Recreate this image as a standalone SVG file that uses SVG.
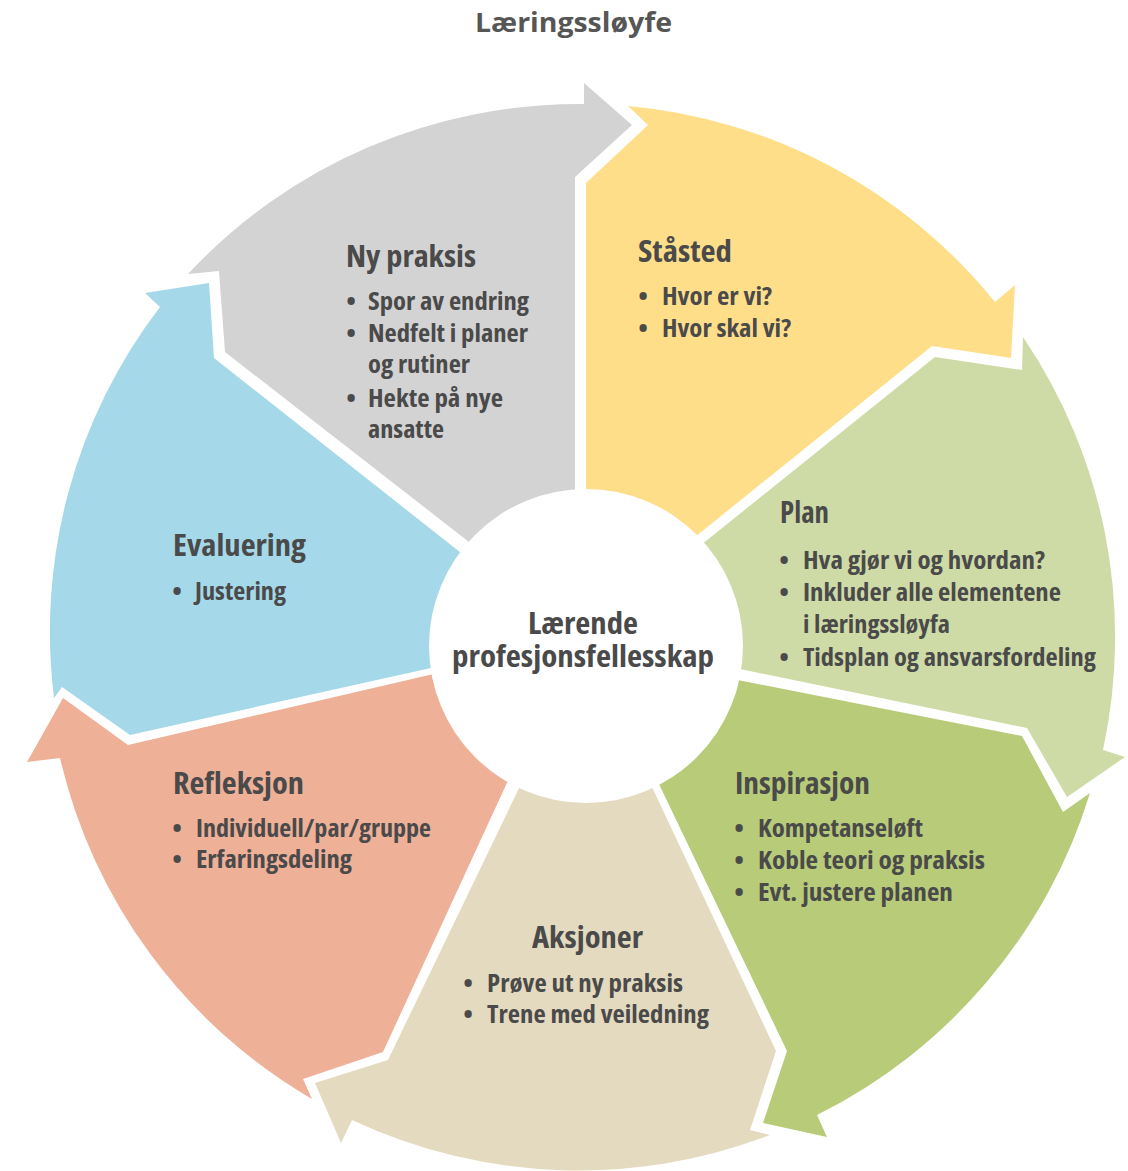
<svg xmlns="http://www.w3.org/2000/svg" width="1128" height="1171" viewBox="0 0 1128 1171">
<style>
  .seg { stroke: none; }
  .t { font-family: "Open Sans", "Liberation Sans Narrow", "DejaVu Sans Condensed", sans-serif; font-weight: 700; font-stretch: condensed; fill: #4a4a4a; }
  .h { font-size: 30px; }
  .c { font-size: 30px; }
  .b { font-size: 25px; }
  .dot { font-size: 25px; text-anchor: middle; }
  .title { font-family: "Open Sans", "Liberation Sans", sans-serif; font-weight: 700; font-size: 26px; fill: #565656; }
</style>
<rect width="1128" height="1171" fill="#ffffff"/>
<text class="title" x="475" y="32" textLength="197" lengthAdjust="spacingAndGlyphs">Læringssløyfe</text>

<g id="ny-praksis">
  <path class="seg" fill="#d3d3d3" d="M478,549 L225,352 L219,271 L188,274 A534,534 0 0 1 584,104 L584,83 L632,125 L575,177 L575,500 L586,646 Z"/>
  <text class="t h" x="346" y="267" textLength="130" lengthAdjust="spacingAndGlyphs">Ny praksis</text>
  <text class="t dot" x="351" y="310">•</text>
  <text class="t b" x="368" y="310" textLength="161" lengthAdjust="spacingAndGlyphs">Spor av endring</text>
  <text class="t dot" x="351" y="342">•</text>
  <text class="t b" x="368" y="342" textLength="160" lengthAdjust="spacingAndGlyphs">Nedfelt i planer</text>
  <text class="t b" x="368" y="373" textLength="102" lengthAdjust="spacingAndGlyphs">og rutiner</text>
  <text class="t dot" x="351" y="407">•</text>
  <text class="t b" x="368" y="407" textLength="135" lengthAdjust="spacingAndGlyphs">Hekte på nye</text>
  <text class="t b" x="368" y="438" textLength="76" lengthAdjust="spacingAndGlyphs">ansatte</text>
</g>

<g id="staasted">
  <path class="seg" fill="#ffde8a" d="M586,500 L586,183 L648,125 L628,106 A534,534 0 0 1 995,302 L1015,285 L1011,358 L932,346 L690,541 L586,646 Z"/>
  <text class="t h" x="638" y="262" textLength="94" lengthAdjust="spacingAndGlyphs">Ståsted</text>
  <text class="t dot" x="643" y="305">•</text>
  <text class="t b" x="662" y="305" textLength="110" lengthAdjust="spacingAndGlyphs">Hvor er vi?</text>
  <text class="t dot" x="643" y="337">•</text>
  <text class="t b" x="662" y="337" textLength="129" lengthAdjust="spacingAndGlyphs">Hvor skal vi?</text>
</g>

<g id="plan">
  <path class="seg" fill="#cfdba6" d="M696,549 L935,357 L1022,370 L1023,337 A534,534 0 0 1 1103,750 L1125,757 L1067,797 L1027,728 L735,668 L586,646 Z"/>
  <text class="t h" x="780" y="523" textLength="49" lengthAdjust="spacingAndGlyphs">Plan</text>
  <text class="t dot" x="784" y="569">•</text>
  <text class="t b" x="803" y="569" textLength="242" lengthAdjust="spacingAndGlyphs">Hva gjør vi og hvordan?</text>
  <text class="t dot" x="784" y="601">•</text>
  <text class="t b" x="803" y="601" textLength="258" lengthAdjust="spacingAndGlyphs">Inkluder alle elementene</text>
  <text class="t b" x="803" y="633" textLength="147" lengthAdjust="spacingAndGlyphs">i læringssløyfa</text>
  <text class="t dot" x="784" y="666">•</text>
  <text class="t b" x="803" y="666" textLength="293" lengthAdjust="spacingAndGlyphs">Tidsplan og ansvarsfordeling</text>
</g>

<g id="inspirasjon">
  <path class="seg" fill="#b8cb78" d="M730,678.5 L1022,736 L1063,812 L1090,793 A534,534 0 0 1 817,1115 L827,1137 L763,1123 L787,1051 L654.6,775 L586,646 Z"/>
  <text class="t h" x="735" y="794" textLength="135" lengthAdjust="spacingAndGlyphs">Inspirasjon</text>
  <text class="t dot" x="739" y="837">•</text>
  <text class="t b" x="758" y="837" textLength="165" lengthAdjust="spacingAndGlyphs">Kompetanseløft</text>
  <text class="t dot" x="739" y="869">•</text>
  <text class="t b" x="758" y="869" textLength="227" lengthAdjust="spacingAndGlyphs">Koble teori og praksis</text>
  <text class="t dot" x="739" y="901">•</text>
  <text class="t b" x="758" y="901" textLength="195" lengthAdjust="spacingAndGlyphs">Evt. justere planen</text>
</g>

<g id="aksjoner">
  <path class="seg" fill="#e4dabf" d="M648.7,780 L776,1051 L750,1130 L770,1135 A534,534 0 0 1 352,1120 L341,1143 L315,1083 L388,1060 L523,780 L586,646 Z"/>
  <text class="t h" x="532" y="948" textLength="111" lengthAdjust="spacingAndGlyphs">Aksjoner</text>
  <text class="t dot" x="468" y="992">•</text>
  <text class="t b" x="487" y="992" textLength="196" lengthAdjust="spacingAndGlyphs">Prøve ut ny praksis</text>
  <text class="t dot" x="468" y="1023">•</text>
  <text class="t b" x="487" y="1023" textLength="222" lengthAdjust="spacingAndGlyphs">Trene med veiledning</text>
</g>

<g id="refleksjon">
  <path class="seg" fill="#efb098" d="M510.6,775 L383,1052 L303,1079 L312,1099 A534,534 0 0 1 60,758 L27,762 L63,698 L128,745 L440,672.6 L586,646 Z"/>
  <text class="t h" x="173" y="794" textLength="131" lengthAdjust="spacingAndGlyphs">Refleksjon</text>
  <text class="t dot" x="177" y="837">•</text>
  <text class="t b" x="196" y="837" textLength="235" lengthAdjust="spacingAndGlyphs">Individuell/par/gruppe</text>
  <text class="t dot" x="177" y="868">•</text>
  <text class="t b" x="196" y="868" textLength="156" lengthAdjust="spacingAndGlyphs">Erfaringsdeling</text>
</g>

<g id="evaluering">
  <path class="seg" fill="#a5d8e9" d="M440,665.9 L130,735 L62,687 L54,698 A534,534 0 0 1 160,307 L145,293 L209,283 L214,358 L470,560 L586,646 Z"/>
  <text class="t h" x="173" y="556" textLength="133" lengthAdjust="spacingAndGlyphs">Evaluering</text>
  <text class="t dot" x="177" y="600">•</text>
  <text class="t b" x="195" y="600" textLength="91" lengthAdjust="spacingAndGlyphs">Justering</text>
</g>

<g id="connectors"></g>

<g id="center">
  <circle cx="586" cy="646" r="157" fill="#ffffff"/>
  <text class="t c" x="528" y="634" textLength="110" lengthAdjust="spacingAndGlyphs">Lærende</text>
  <text class="t c" x="452" y="667" textLength="262" lengthAdjust="spacingAndGlyphs">profesjonsfellesskap</text>
</g>
</svg>
